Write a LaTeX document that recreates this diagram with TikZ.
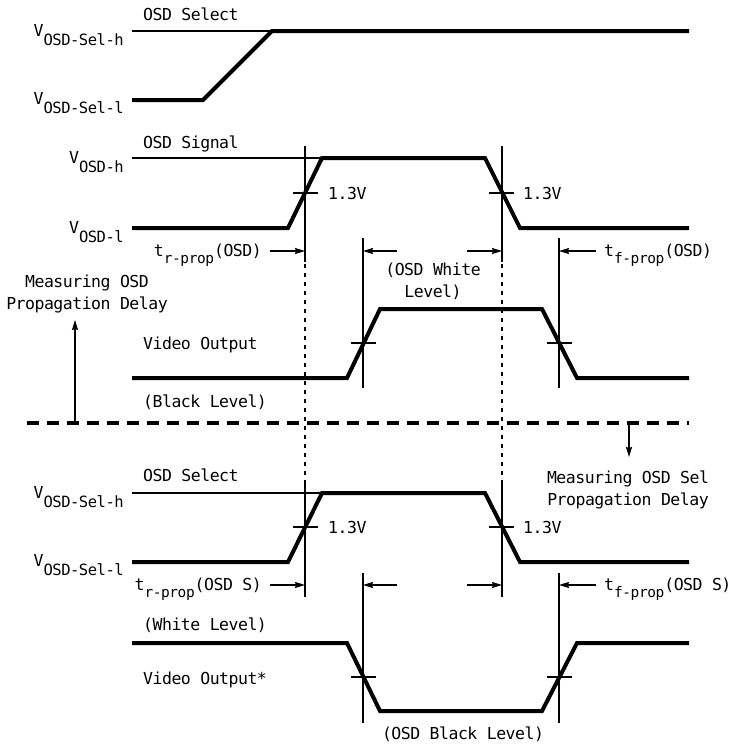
\documentclass[tikz,border=0pt]{standalone}
\usepackage{fontspec}
\newfontfamily\cadfont[LetterSpace=-3]{DejaVu Sans Mono}
\usetikzlibrary{arrows.meta}
\newcommand{\vsub}[1]{\raisebox{-9.5pt}{\fontsize{15.5}{15.5}\selectfont #1}}
\newcommand{\tsub}[1]{\raisebox{-7.5pt}{\fontsize{14.5}{14.5}\selectfont #1}}
\begin{document}
\begin{tikzpicture}[x=1pt,y=-1pt,
  lbl/.style={font=\cadfont\fontsize{16.5}{22}\selectfont, inner sep=0pt, text height=12pt, text depth=0pt},
  mlbl/.style={font=\cadfont\fontsize{16.5}{22}\selectfont, inner sep=0pt, align=center},
  sig/.style={line width=4pt, line join=miter},
  thinln/.style={line width=1.2pt},
  dotv/.style={line width=1.2pt, dash pattern=on 4pt off 5pt},
  sepline/.style={line width=4pt, dash pattern=on 12pt off 8pt},
  arr/.style={line width=1.2pt, -{Stealth[length=10pt,width=6pt,inset=1pt]}},
]
\useasboundingbox (0,0) rectangle (732,744);

% ---------- top: OSD Select ----------
\node[lbl, anchor=west] (sel1) at (143,14) {OSD Select};
\node[lbl, anchor=east] (vselh1) at (124,30) {V\vsub{OSD-Sel-h}};
\node[lbl, anchor=east] (vsell1) at (124,98) {V\vsub{OSD-Sel-l}};
\draw[thinln] (132,31) -- (272,31);
\draw[sig] (132,100) -- (203,100) -- (272,31) -- (689,31);

% ---------- OSD Signal ----------
\node[lbl, anchor=west] (sigl) at (143,142) {OSD Signal};
\node[lbl, anchor=east] (vosdh) at (124,157) {V\vsub{OSD-h}};
\node[lbl, anchor=east] (vosdl) at (124,227) {V\vsub{OSD-l}};
\draw[thinln] (132,158) -- (322,158);
\draw[sig] (132,228) -- (288,228) -- (322,158) -- (485,158) -- (520,228) -- (689,228);
\draw[thinln] (305,146) -- (305,262);
\draw[thinln] (502,146) -- (502,262);
\draw[thinln] (293,193) -- (318,193);
\draw[thinln] (489,193) -- (514,193);
\node[lbl, anchor=west] (v13a) at (328,193) {1.3V};
\node[lbl, anchor=west] (v13b) at (523,193) {1.3V};

% dotted continuation
\draw[dotv] (305,264) -- (305,480);
\draw[dotv] (502,264) -- (502,480);

% timing arrows (top)
\node[lbl, anchor=east] (tr1) at (262,250) {t\tsub{r-prop}(OSD)};
\node[lbl, anchor=west] (tf1) at (604,250) {t\tsub{f-prop}(OSD)};
\coordinate (a1s) at (270,251); \coordinate (a1e) at (305,251);
\coordinate (a2s) at (397,251); \coordinate (a2e) at (363,251);
\coordinate (a3s) at (467,251); \coordinate (a3e) at (502,251);
\coordinate (a4s) at (596,251); \coordinate (a4e) at (559,251);
\draw[arr] (a1s) -- (a1e);
\draw[arr] (a2s) -- (a2e);
\draw[arr] (a3s) -- (a3e);
\draw[arr] (a4s) -- (a4e);
\node[mlbl] (white) at (433,281) {(OSD White\\Level)};

% ---------- Video Output (top) ----------
\node[mlbl] (meas1) at (87,294) {Measuring OSD\\Propagation Delay};
\node[lbl, anchor=west] (vid1) at (143,343) {Video Output};
\node[lbl, anchor=west] (blk) at (143,401) {(Black Level)};
\draw[sig] (132,378) -- (347,378) -- (380,309) -- (542,309) -- (577,378) -- (689,378);
\draw[thinln] (363,238) -- (363,388);
\draw[thinln] (559,238) -- (559,388);
\draw[thinln] (351,343) -- (376,343);
\draw[thinln] (547,343) -- (572,343);

% ---------- separator ----------
\draw[sepline] (27,423) -- (689,423);
\coordinate (up0) at (75,423); \coordinate (up1) at (75,320);
\coordinate (dn0) at (629,423); \coordinate (dn1) at (629,457);
\draw[arr] (up0) -- (up1);
\draw[arr] (dn0) -- (dn1);
\node[mlbl] (meas2) at (628,490) {Measuring OSD Sel\\Propagation Delay};

% ---------- bottom: OSD Select ----------
\node[lbl, anchor=west] (sel2) at (143,475) {OSD Select};
\node[lbl, anchor=east] (vselh2) at (124,492) {V\vsub{OSD-Sel-h}};
\node[lbl, anchor=east] (vsell2) at (124,560) {V\vsub{OSD-Sel-l}};
\draw[thinln] (132,493) -- (322,493);
\draw[sig] (132,562) -- (288,562) -- (322,493) -- (485,493) -- (520,562) -- (689,562);
\draw[thinln] (305,480) -- (305,597);
\draw[thinln] (502,480) -- (502,597);
\draw[thinln] (293,527) -- (318,527);
\draw[thinln] (489,527) -- (514,527);
\node[lbl, anchor=west] (v13c) at (328,527) {1.3V};
\node[lbl, anchor=west] (v13d) at (523,527) {1.3V};

% timing arrows (bottom)
\node[lbl, anchor=east] (tr2) at (262,584) {t\tsub{r-prop}(OSD S)};
\node[lbl, anchor=west] (tf2) at (604,584) {t\tsub{f-prop}(OSD S)};
\coordinate (b1s) at (270,585); \coordinate (b1e) at (305,585);
\coordinate (b2s) at (397,585); \coordinate (b2e) at (363,585);
\coordinate (b3s) at (467,585); \coordinate (b3e) at (502,585);
\coordinate (b4s) at (596,585); \coordinate (b4e) at (559,585);
\draw[arr] (b1s) -- (b1e);
\draw[arr] (b2s) -- (b2e);
\draw[arr] (b3s) -- (b3e);
\draw[arr] (b4s) -- (b4e);

% ---------- Video Output* (bottom) ----------
\node[lbl, anchor=west] (wht) at (143,624) {(White Level)};
\node[lbl, anchor=west] (vid2) at (143,678) {Video Output*};
\draw[sig] (132,643) -- (347,643) -- (380,711) -- (542,711) -- (577,643) -- (689,643);
\draw[thinln] (363,573) -- (363,723);
\draw[thinln] (559,573) -- (559,723);
\draw[thinln] (351,677) -- (376,677);
\draw[thinln] (547,677) -- (572,677);
\node[lbl] (oblk) at (463,733) {(OSD Black Level)};
\end{tikzpicture}
\end{document}
